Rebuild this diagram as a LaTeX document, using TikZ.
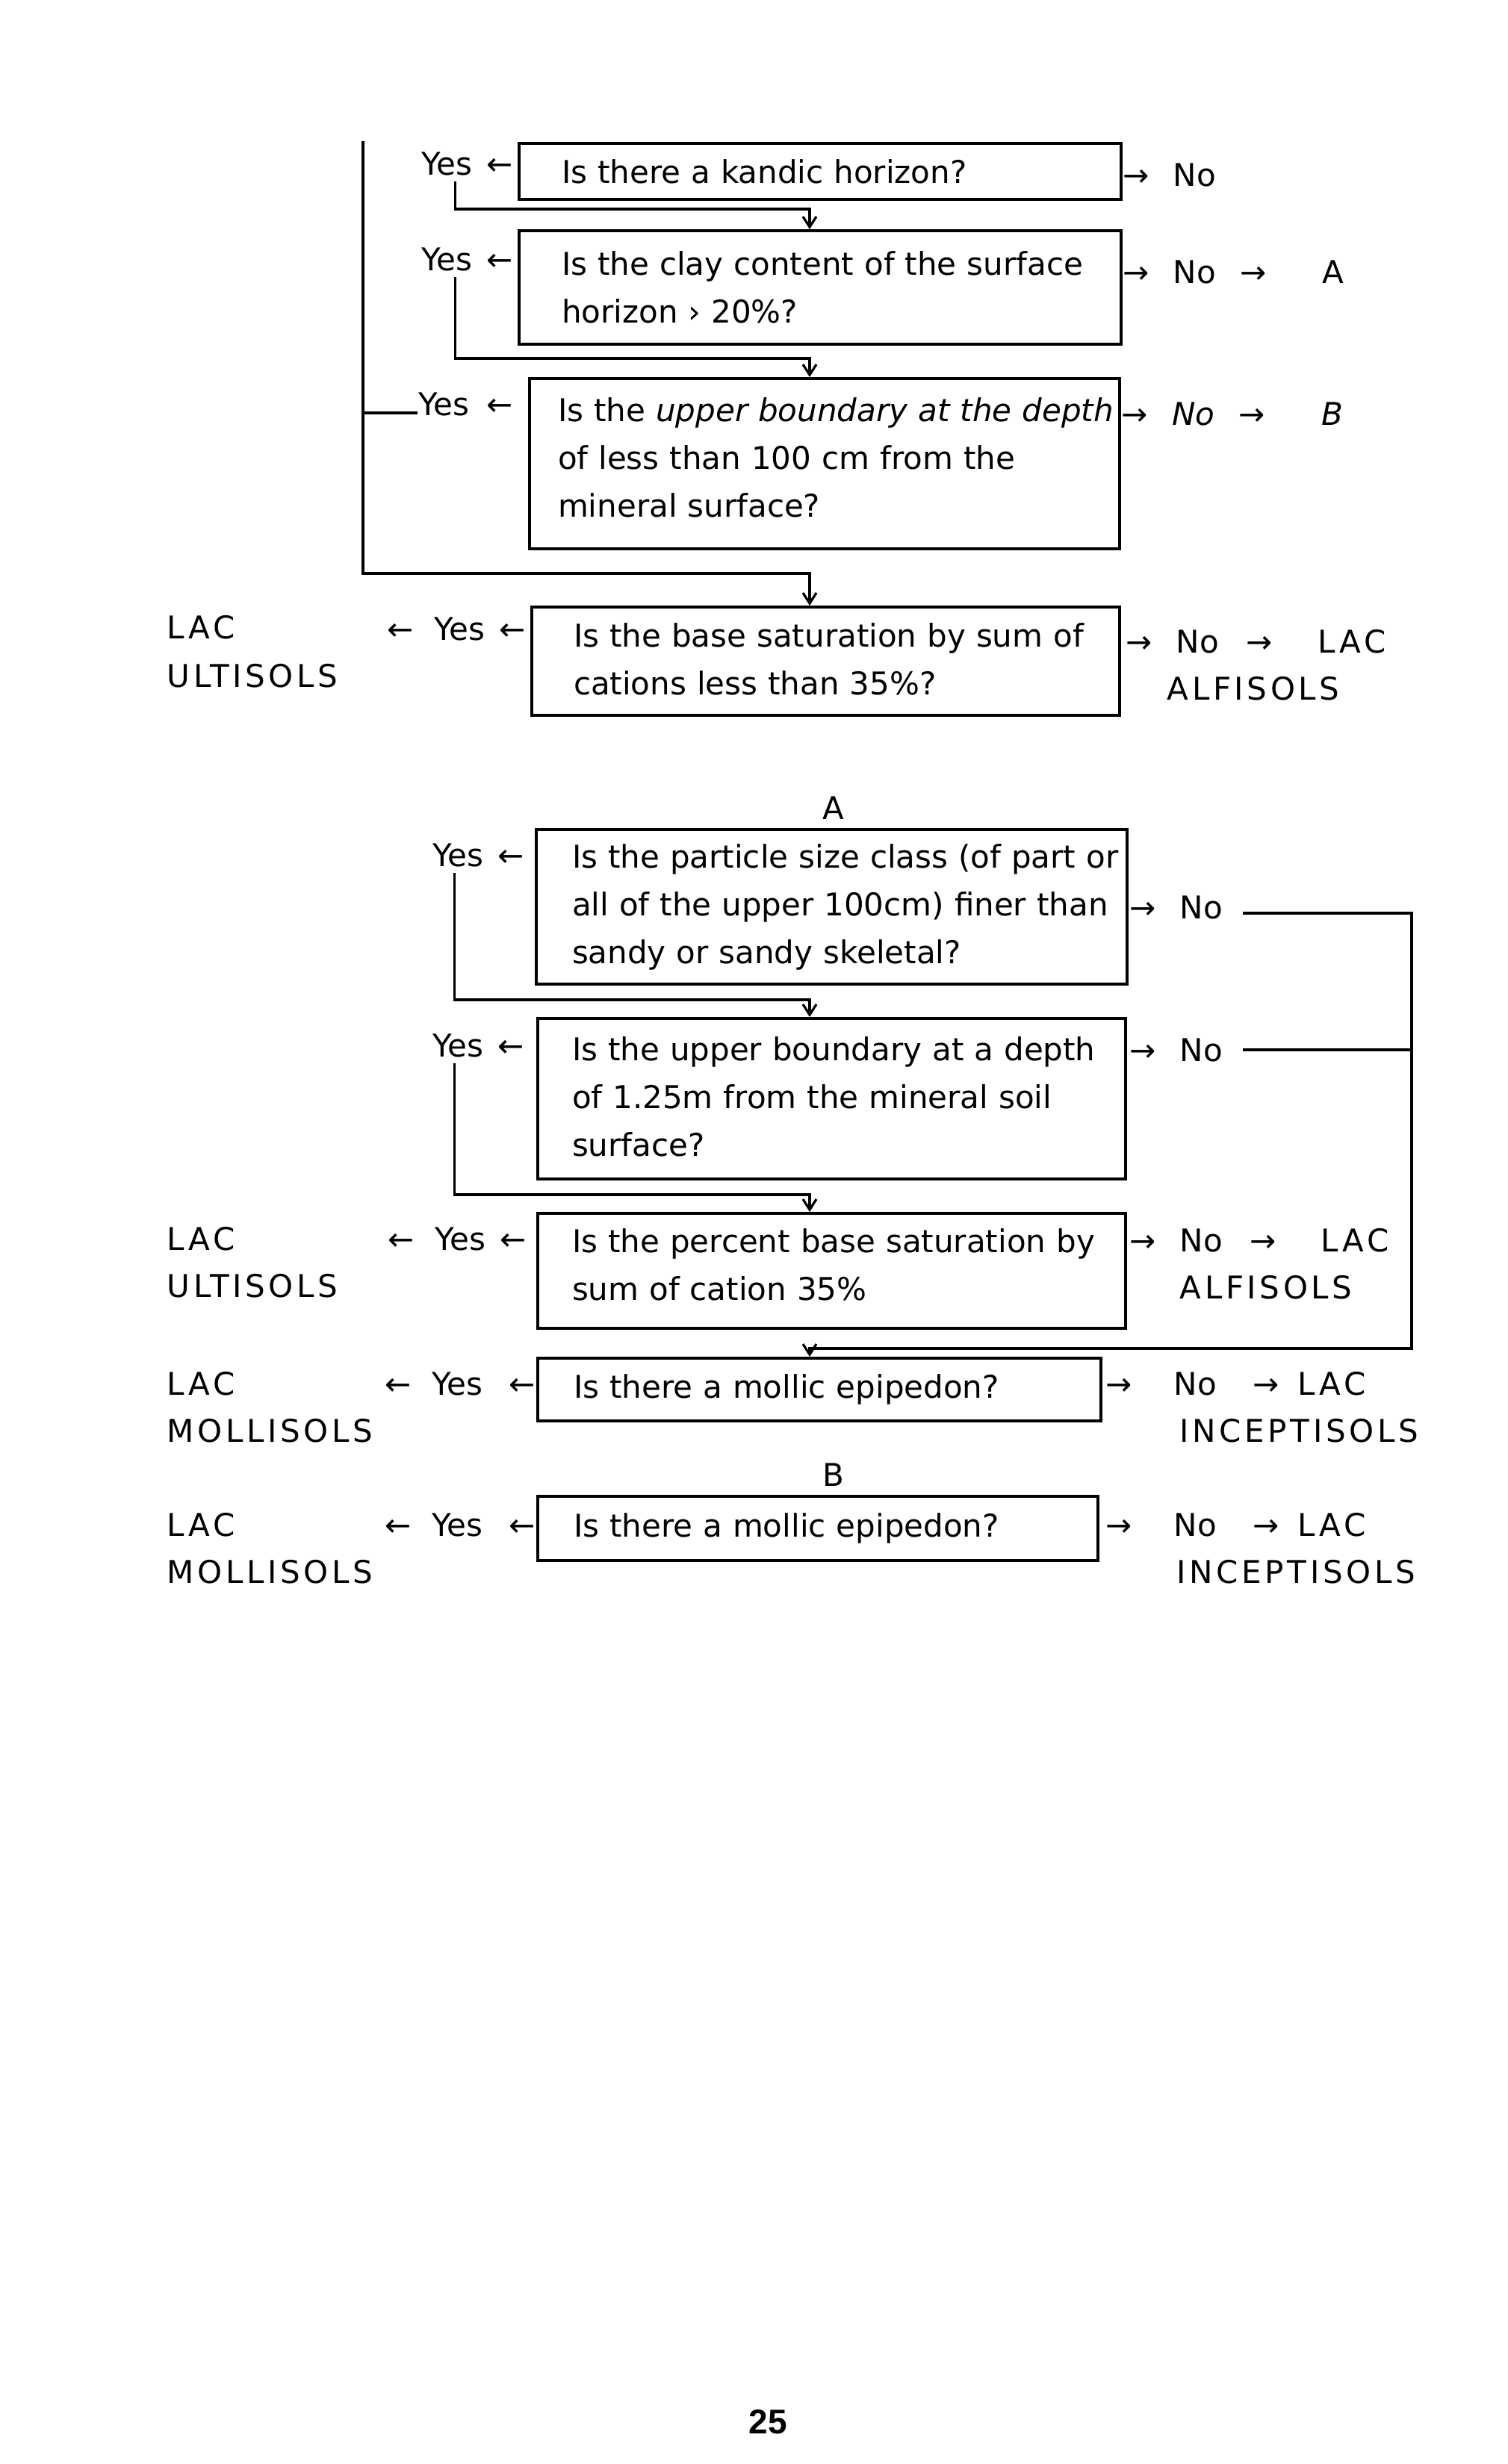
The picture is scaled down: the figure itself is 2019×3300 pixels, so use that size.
\documentclass[tikz,border=0pt]{standalone}
\usepackage{fontspec}
\setmainfont{DejaVu Sans}
\newfontfamily\capsfont[LetterSpace=11]{DejaVu Sans}
\newfontfamily\pagefont{Liberation Sans}
\usetikzlibrary{arrows.meta}
\begin{document}
\begin{tikzpicture}[x=0.25pt,y=-0.25pt,
  box/.style={draw, line width=1pt, align=left, inner ysep=0pt,
    font=\fontsize{10.5pt}{16pt}\selectfont},
  lbl/.style={inner sep=0pt, text height=7.6pt, text depth=0pt,
    font=\fontsize{10.5pt}{16pt}\selectfont},
  caps/.style={lbl, font=\capsfont\fontsize{10.5pt}{16pt}\selectfont},
  conn/.style={line width=0.8pt},
  arr/.style={-{Straight Barb[length=3.5pt,width=4.5pt]}}]
\useasboundingbox (0,0) rectangle (2019,3300);

% ---- boxes, first key ----
\node[box, minimum width=201.5pt, minimum height=18.75pt, text width=173pt, inner xsep=14.25pt] (b1) at (1098,229.5)
  {\mbox{Is there a kandic horizon?}};
\node[box, minimum width=201.5pt, minimum height=38pt, text width=173pt, inner xsep=14.25pt] (b2) at (1098,385)
  {\mbox{Is the clay content of the surface}\\\mbox{horizon › 20\%?}};
\node[box, minimum width=197.5pt, minimum height=57pt, text width=178.5pt, inner xsep=9.5pt] (b3) at (1104,621)
  {\mbox{Is the \textit{upper boundary at the depth}}\\\mbox{of less than 100 cm from the}\\\mbox{mineral surface?}\par\kern4pt};
\node[box, minimum width=196.75pt, minimum height=36.25pt, text width=168.75pt, inner xsep=14pt] (b4) at (1105.5,885.5)
  {\mbox{Is the base saturation by sum of}\\\mbox{cations less than 35\%?}\par\kern1.5pt};

% ---- boxes, key A ----
\node[lbl] (labA) at (1116,1082) {A};
\node[box, minimum width=197.75pt, minimum height=51.75pt, text width=173.75pt, inner xsep=12pt] (b5) at (1113.5,1214.5)
  {\mbox{Is the particle size class (of part or}\\\mbox{all of the upper 100cm) finer than}\\\mbox{sandy or sandy skeletal?}};
\node[box, minimum width=196.75pt, minimum height=53.75pt, text width=173.75pt, inner xsep=11.5pt] (b6) at (1113.5,1471.5)
  {\mbox{Is the upper boundary at a depth}\\\mbox{of 1.25m from the mineral soil}\\\mbox{surface?}\par\kern1.5pt};
\node[box, minimum width=196.75pt, minimum height=38.5pt, text width=173.75pt, inner xsep=11.5pt] (b7) at (1113.5,1702)
  {\mbox{Is the percent base saturation by}\\\mbox{sum of cation 35\%}\par\kern4pt};
\node[box, minimum width=188.5pt, minimum height=21pt, text width=164.5pt, inner xsep=12pt] (b8) at (1097,1861)
  {\mbox{Is there a mollic epipedon?}};

% ---- key B ----
\node[lbl] (labB) at (1116,1975) {B};
\node[box, minimum width=187.5pt, minimum height=21.5pt, text width=163.5pt, inner xsep=12pt] (b9) at (1095,2047)
  {\mbox{Is there a mollic epipedon?}};

% ---- Yes labels ----
\node[lbl, anchor=east] (yes1) at (688,219) {Yes\hspace{5pt}←};
\node[lbl, anchor=east] (yes2) at (688,347) {Yes\hspace{5pt}←};
\node[lbl, anchor=east] (yes3) at (688,541) {Yes\hspace{6pt}←};
\node[lbl, anchor=east] (yes4) at (704,842) {←\hspace{7pt}Yes\hspace{4.75pt}←};
\node[lbl, anchor=east] (yes5) at (703,1145) {Yes\hspace{5pt}←};
\node[lbl, anchor=east] (yes6) at (703,1400) {Yes\hspace{5pt}←};
\node[lbl, anchor=east] (yes7) at (705,1659) {←\hspace{7pt}Yes\hspace{4.75pt}←};
\node[lbl, anchor=east] (yes8) at (718,1853) {←\hspace{7pt}Yes\hspace{9pt}←};
\node[lbl, anchor=east] (yes9) at (718,2042) {←\hspace{7pt}Yes\hspace{9pt}←};

% ---- No labels ----
\node[lbl, anchor=west] (no1) at (1503,234) {→\hspace{8pt}No};
\node[lbl, anchor=west] (no2) at (1503,364) {→\hspace{8pt}No\hspace{8pt}→};
\node[lbl] (outA) at (1785,364) {A};
\node[lbl, anchor=west] (no3) at (1501,554) {→\hspace{8pt}\textit{No}\hspace{8pt}→};
\node[lbl] (outB) at (1784,554) {\textit{B}};
\node[lbl, anchor=west] (no4) at (1507,859) {→\hspace{8pt}No\hspace{9pt}→};
\node[caps, anchor=west] (r4a) at (1764,859) {LAC};
\node[caps, anchor=west] (r4b) at (1562,922) {ALFISOLS};
\node[lbl, anchor=west] (no5) at (1512,1215) {→\hspace{8pt}No};
\node[lbl, anchor=west] (no6) at (1512,1406) {→\hspace{8pt}No};
\node[lbl, anchor=west] (no7) at (1512,1661) {→\hspace{8pt}No\hspace{9pt}→};
\node[caps, anchor=west] (r7a) at (1768,1661) {LAC};
\node[caps, anchor=west] (r7b) at (1579,1724) {ALFISOLS};
\node[lbl, anchor=west] (no8) at (1480,1853) {→\hspace{14pt}No\hspace{12pt}→};
\node[caps, anchor=west] (r8a) at (1737,1853) {LAC};
\node[caps, anchor=west] (r8b) at (1579,1916) {INCEPTISOLS};
\node[lbl, anchor=west] (no9) at (1480,2042) {→\hspace{14pt}No\hspace{12pt}→};
\node[caps, anchor=west] (r9a) at (1737,2042) {LAC};
\node[caps, anchor=west] (r9b) at (1575,2105) {INCEPTISOLS};

% ---- left outcomes ----
\node[caps, anchor=west] (l4a) at (223,840) {LAC};
\node[caps, anchor=west] (l4b) at (223,905) {ULTISOLS};
\node[caps, anchor=west] (l7a) at (223,1659) {LAC};
\node[caps, anchor=west] (l7b) at (223,1722) {ULTISOLS};
\node[caps, anchor=west] (l8a) at (223,1853) {LAC};
\node[caps, anchor=west] (l8b) at (223,1916) {MOLLISOLS};
\node[caps, anchor=west] (l9a) at (223,2042) {LAC};
\node[caps, anchor=west] (l9b) at (223,2105) {MOLLISOLS};

% ---- connectors ----
\coordinate (loopTop) at (486,189);
\coordinate (k1) at (1084,280);
\coordinate (k2) at (1084,480);
\coordinate (k3) at (1084,768);
\coordinate (k5) at (1084,1339);
\coordinate (k6) at (1084,1600);
\coordinate (rr) at (1890,1806);
\coordinate (k8) at (1084,1806);
\coordinate (y3l) at ([yshift=1pt]yes3.south west);

\draw[conn,arr] ([xshift=11.5pt,yshift=-2pt]yes1.south west) |- (k1) -- (k1 |- b2.north);
\draw[conn,arr] ([xshift=11.5pt,yshift=-2pt]yes2.south west) |- (k2) -- (k2 |- b3.north);
\draw[conn,arr] (loopTop) |- (k3) -- (k3 |- b4.north);
\draw[conn] (y3l -| loopTop) -- (y3l);
\draw[conn,arr] ([xshift=7.5pt,yshift=-2pt]yes5.south west) |- (k5) -- (k5 |- b6.north);
\draw[conn,arr] ([xshift=7.5pt,yshift=-2pt]yes6.south west) |- (k6) -- (k6 |- b7.north);
\draw[conn,arr] ([xshift=6.5pt,yshift=-2pt]no5.east) -| (rr) -- (k8) -- (k8 |- b8.north);
\draw[conn] ([xshift=6.5pt]no6.east) -- (no6.east -| rr);

% ---- page number ----
\node[font=\pagefont\bfseries\fontsize{11.5pt}{12pt}\selectfont] (pg) at (1028,3244) {25};
\end{tikzpicture}
\end{document}
